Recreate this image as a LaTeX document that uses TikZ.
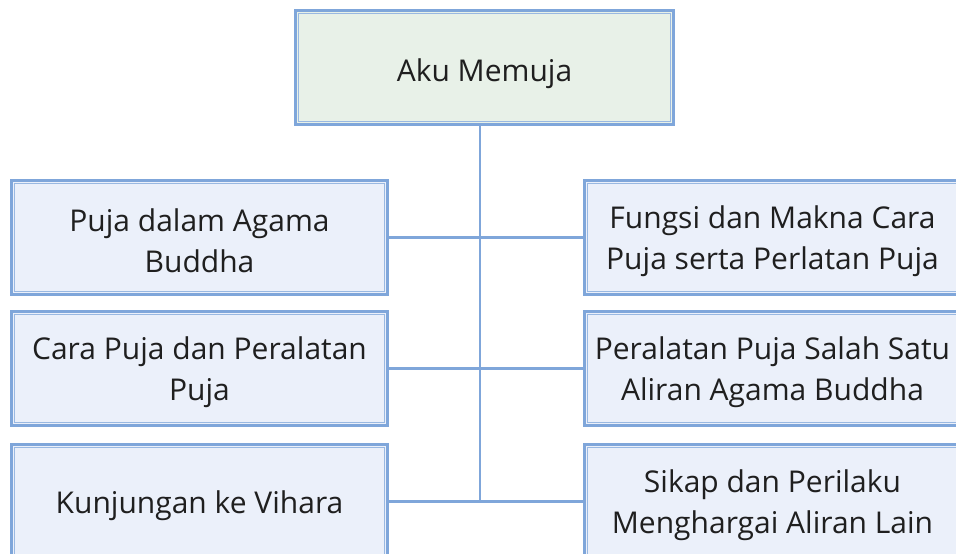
\documentclass[tikz,border=0pt]{standalone}
\usepackage{fontspec}
\setmainfont{Open Sans}
% a tall invisible strut on the first line lowers the text a little inside its box
\newcommand{\lowerby}[1]{\rule{0pt}{#1}}
\begin{document}
\begin{tikzpicture}[x=1pt,y=-1pt,
  every node/.style={inner sep=0pt},
  boxtext/.style={font=\fontsize{30}{41}\selectfont, text=black!88, align=center},
  topic/.style={rectangle, draw=boxblue, line width=3pt, fill=sidefill,
    minimum width=376pt, minimum height=114pt, boxtext},
  innerline/.style={draw=boxblue!80, line width=1.1pt},
  link/.style={draw=boxblue, line width=2.6pt}]
\definecolor{boxblue}{RGB}{127,166,218}
\definecolor{sidefill}{RGB}{235,240,250}
\definecolor{topfill}{RGB}{232,241,232}
\useasboundingbox (0,0) rectangle (956,554);

% title box
\node[topic, fill=topfill, minimum width=378pt] (title) at (484.5,67.5) {\lowerby{36pt}Aku Memuja};

% left column
\node[topic] (l1) at (199.5,237.5) {\lowerby{30pt}Puja dalam Agama\\Buddha};
\node[topic] (l2) at (199.5,368.5) {\lowerby{30pt}Cara Puja dan Peralatan\\Puja};
\node[topic] (l3) at (199.5,501.5) {\lowerby{31pt}Kunjungan ke Vihara};

% right column
\node[topic] (r1) at (772.5,237.5) {\lowerby{30pt}Fungsi dan Makna Cara\\Puja serta Perlatan Puja};
\node[topic] (r2) at (772.5,368.5) {\lowerby{30pt}Peralatan Puja Salah Satu\\Aliran Agama Buddha};
\node[topic] (r3) at (772.5,501.5) {\lowerby{30pt}Sikap dan Perilaku\\Menghargai Aliran Lain};

% thin inner rule of every double frame
\foreach \b in {title,l1,l2,l3,r1,r2,r3}
  \draw[innerline] ([shift={(4.6pt,-4.6pt)}]\b.north west) rectangle ([shift={(-4.6pt,4.6pt)}]\b.south east);

% connectors: a spine down from the title, and one bar across each row
\coordinate (spine) at (480,0);
\coordinate (spineend) at ([yshift=-1.3pt]spine |- l3.east);
\draw[link] (title.south -| spine) -- (spineend);
\draw[link] (l1.east) -- (r1.west);
\draw[link] (l2.east) -- (r2.west);
\draw[link] (l3.east) -- (r3.west);
\end{tikzpicture}
\end{document}
